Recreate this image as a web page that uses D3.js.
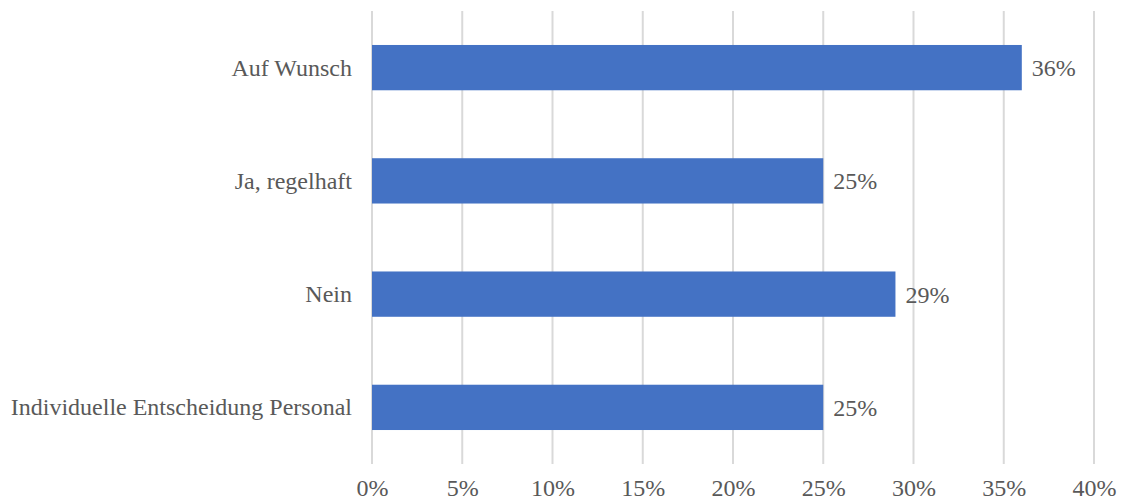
<!DOCTYPE html>
<html>
<head>
<meta charset="utf-8">
<script src="https://cdn.jsdelivr.net/npm/d3@7"></script>
<style>
  html, body { margin: 0; padding: 0; background: #fff; }
  svg { display: block; }
  text { font-family: "Liberation Serif", "Times New Roman", serif; fill: #595959; }
</style>
</head>
<body>
<svg id="chart" width="1121" height="502"></svg>
<script>
// Antworten und Anteile (in Prozent)
const categories = ["Auf Wunsch", "Ja, regelhaft", "Nein", "Individuelle Entscheidung Personal"];
const values = [36, 25, 29, 25];
const tickValues = [0, 5, 10, 15, 20, 25, 30, 35, 40];

const width = 1121, height = 502;
const margin = { left: 372, right: 27, top: 11, bottom: 38 };
const fontSize = 24;
const fontFamily = '"Liberation Serif", "Times New Roman", serif';

const svg = d3.select("#chart");

const x = d3.scaleLinear()
  .domain([0, 40])
  .range([margin.left, width - margin.right]);

const y = d3.scaleBand()
  .domain(categories)
  .range([margin.top, height - margin.bottom])
  .paddingInner(0.6)
  .paddingOuter(0.3);

// vertical gridlines
svg.append("g")
  .selectAll("line")
  .data(tickValues)
  .join("line")
  .attr("x1", d => x(d)).attr("x2", d => x(d))
  .attr("y1", margin.top).attr("y2", height - margin.bottom)
  .attr("stroke", "#d9d9d9")
  .attr("stroke-width", 2);

// x axis tick labels
const xAxis = d3.axisBottom(x)
  .tickValues(tickValues)
  .tickFormat(d => d + "%")
  .tickSize(0)
  .tickPadding(0);

const gx = svg.append("g")
  .attr("transform", `translate(0, ${height - 6})`)
  .call(xAxis);
gx.select(".domain").remove();
gx.selectAll("text")
  .attr("y", 0)
  .attr("dy", "0")
  .style("font-size", fontSize + "px")
  .style("font-family", fontFamily)
  .attr("fill", "#595959");

// y axis category labels
const yAxis = d3.axisLeft(y).tickSize(0).tickPadding(20);
const gy = svg.append("g")
  .attr("transform", `translate(${margin.left}, 0)`)
  .call(yAxis);
gy.select(".domain").remove();
gy.selectAll("text")
  .attr("dy", "0.33em")
  .style("font-size", fontSize + "px")
  .style("font-family", fontFamily)
  .attr("fill", "#595959");

// bars
svg.append("g")
  .selectAll("rect")
  .data(categories)
  .join("rect")
  .attr("x", x(0))
  .attr("y", d => y(d))
  .attr("width", (d, i) => x(values[i]) - x(0))
  .attr("height", y.bandwidth())
  .attr("fill", "#4472C4");

// value labels
svg.append("g")
  .selectAll("text")
  .data(categories)
  .join("text")
  .attr("x", (d, i) => x(values[i]) + 10)
  .attr("y", d => y(d) + y.bandwidth() / 2)
  .attr("dy", "0.35em")
  .style("font-size", fontSize + "px")
  .style("font-family", fontFamily)
  .text((d, i) => values[i] + "%");
</script>
</body>
</html>
